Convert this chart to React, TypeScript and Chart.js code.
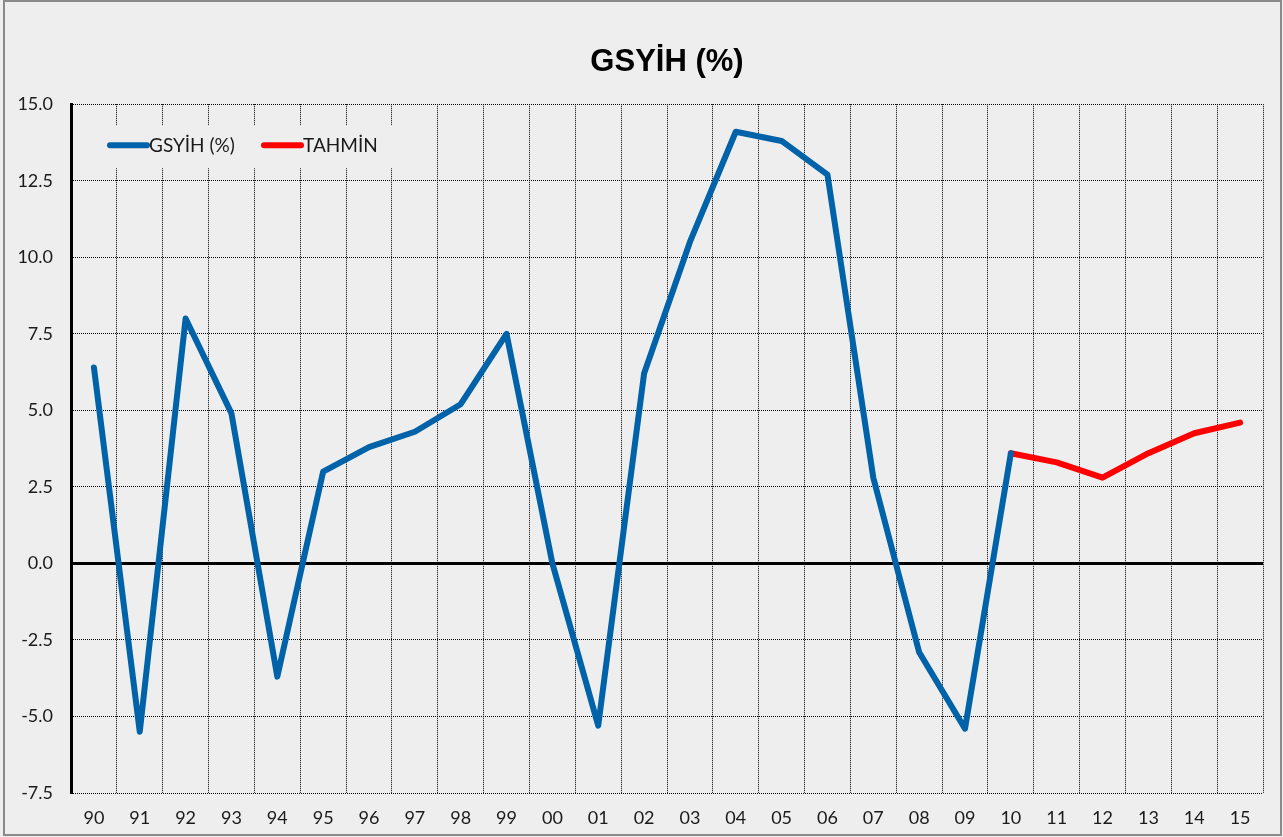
import React, { useEffect, useRef } from "react";
import { Chart, registerables } from "chart.js";

Chart.register(...registerables);

const years = ["90","91","92","93","94","95","96","97","98","99","00","01","02","03","04","05","06","07","08","09","10","11","12","13","14","15"];
const gsyih = [6.4,-5.5,8.0,4.9,-3.7,3.0,3.8,4.3,5.2,7.5,0.0,-5.3,6.2,10.5,14.1,13.8,12.7,2.8,-2.9,-5.4,3.6,null,null,null,null,null];
const tahmin = [null,null,null,null,null,null,null,null,null,null,null,null,null,null,null,null,null,null,null,null,3.6,3.3,2.8,3.6,4.25,4.6];
const yTicks = [-7.5,-5,-2.5,0,2.5,5,7.5,10,12.5,15];

const BG = "#eeeeee";
const TXT = "#1a1a1a";
const FONT = "Lato, 'Open Sans', sans-serif";

const bgPlugin = {
  id: "bgPlugin",
  beforeDraw(chart: any) {
    const { ctx, width, height } = chart;
    ctx.save();
    ctx.fillStyle = BG;
    ctx.fillRect(0, 0, width, height);
    ctx.strokeStyle = "#8a8a8a";
    ctx.lineWidth = 2;
    ctx.strokeRect(4, 1, width - 6, height - 3);
    ctx.restore();
  },
};

const legendPlugin = {
  id: "insideLegend",
  afterDatasetsDraw(chart: any) {
    const { ctx, chartArea } = chart;
    const y = chartArea.top + 41;
    ctx.save();
    ctx.fillStyle = BG;
    ctx.fillRect(chartArea.left + 2, chartArea.top + 21, 328, 43);
    ctx.font = `19px ${FONT}`;
    ctx.textBaseline = "middle";
    ctx.textAlign = "left";
    let x = chartArea.left + 39;
    chart.data.datasets.forEach((ds: any) => {
      ctx.strokeStyle = ds.borderColor;
      ctx.lineWidth = 6;
      ctx.lineCap = "round";
      ctx.beginPath();
      ctx.moveTo(x, y);
      ctx.lineTo(x + 37, y);
      ctx.stroke();
      ctx.fillStyle = TXT;
      ctx.fillText(ds.label, x + 39, y + 1);
      x += 154;
    });
    ctx.restore();
  },
};

export default function App() {
  const ref = useRef<HTMLCanvasElement | null>(null);
  useEffect(() => {
    if (!ref.current) return;
    const chart = new Chart(ref.current, {
      type: "line",
      data: {
        labels: years,
        datasets: [
          {
            label: "GSYİH (%)",
            data: gsyih,
            borderColor: "#0062a8",
            borderWidth: 6,
            pointRadius: 0,
            tension: 0,
            borderJoinStyle: "round",
            borderCapStyle: "round",
            spanGaps: false,
          },
          {
            label: "TAHMİN",
            data: tahmin,
            borderColor: "#ff0000",
            borderWidth: 6,
            pointRadius: 0,
            tension: 0,
            borderJoinStyle: "round",
            borderCapStyle: "round",
          },
        ],
      },
      options: {
        animation: false,
        responsive: false,
        maintainAspectRatio: false,
        layout: { padding: { left: 0, right: 20, top: 0, bottom: 0 } },
        plugins: {
          legend: { display: false },
          tooltip: { enabled: false },
          title: {
            display: true,
            fullSize: false,
            text: "GSYİH (%)",
            color: "#000",
            font: { family: "'Liberation Sans', Arial, sans-serif", size: 31, weight: "bold" },
            padding: { top: 44, bottom: 23 },
          },
        },
        scales: {
          x: {
            type: "category",
            offset: true,
            grid: {
              offset: true,
              drawTicks: false,
              color: "#000",
              lineWidth: 1,
            },
            border: { display: false, dash: [1, 1] },
            ticks: {
              color: TXT,
              font: { family: FONT, size: 18 },
              padding: 14,
              maxRotation: 0,
              autoSkip: false,
            },
            afterFit(scale: any) {
              scale.height = 44;
            },
          },
          y: {
            min: -7.5,
            max: 15,
            afterBuildTicks(scale: any) {
              scale.ticks = yTicks.map((v) => ({ value: v }));
            },
            grid: {
              drawTicks: false,
              color: "#000",
              lineWidth: (c: any) => (c.tick && c.tick.value === 0 ? 3 : 1),
            },
            border: {
              display: true,
              color: "#000",
              width: 3,
              dash: (c: any) => (c.tick && c.tick.value === 0 ? [] : [1, 1]),
            },
            ticks: {
              color: TXT,
              font: { family: FONT, size: 18 },
              padding: 18,
              callback: (v: any) => Number(v).toFixed(1),
            },
            afterFit(scale: any) {
              scale.width = 71;
            },
          },
        },
      },
      plugins: [bgPlugin, legendPlugin],
    } as any);
    return () => chart.destroy();
  }, []);
  return (
    <div style={{ position: "fixed", left: 0, top: 0, width: 1283, height: 837 }}>
      <canvas ref={ref} width={1283} height={837} style={{ width: 1283, height: 837 }} />
    </div>
  );
}
